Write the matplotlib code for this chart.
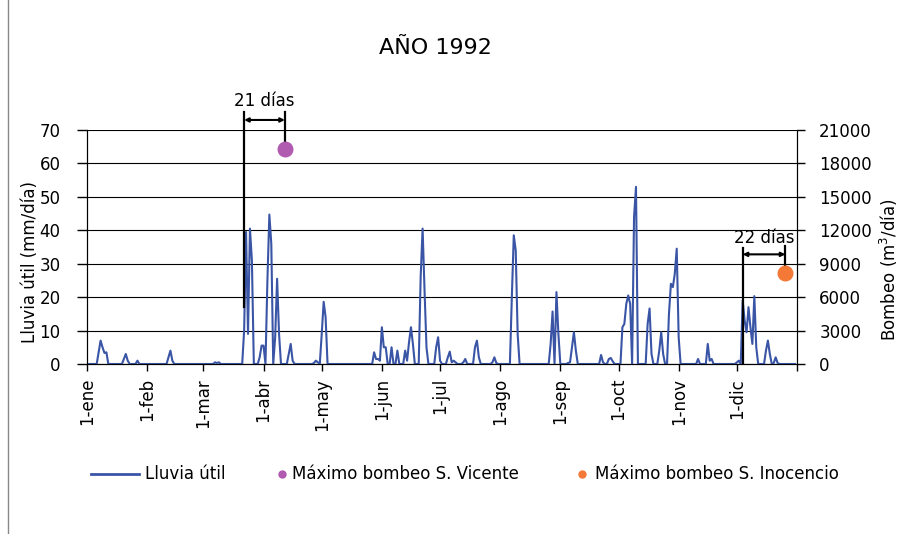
import numpy as np
import matplotlib.pyplot as plt
from matplotlib.lines import Line2D

# lluvia útil diaria (mm/día), sólo días con lluvia; el resto es 0
rain_day = [6, 7, 8, 9, 10, 19, 20, 21, 26, 42, 43, 44, 66, 67, 68,
            81, 82, 83, 84, 85, 89, 90, 91, 93, 94, 95, 97, 98, 99,
            104, 105, 106, 117, 118, 119, 121, 122, 123,
            148, 149, 150, 151, 152, 153, 154, 157, 160, 164, 165, 166, 167, 168,
            172, 173, 174, 175, 180, 181, 182, 186, 187, 188, 189, 190, 194, 195,
            200, 201, 202, 209, 210, 211, 219, 220, 221, 222,
            239, 240, 242, 243, 248, 249, 250, 251, 252, 265, 266, 269, 270, 271,
            276, 277, 278, 279, 280, 282, 283, 289, 290, 291, 295, 296, 297,
            300, 301, 302, 303, 304, 305, 315, 320, 321, 322,
            335, 336, 338, 339, 340, 341, 342, 343, 344, 345,
            350, 351, 352, 354, 355, 356]
rain_mm = [3.5, 7, 5, 3.3, 3.5, 1.5, 3, 1, 1, 2, 4, 1, 0.5, 0.3, 0.5,
           10, 39.5, 9, 40.5, 31, 2, 5.5, 5.5, 25, 44.7, 36, 8, 25.5, 9,
           3, 6, 1, 0.3, 1, 0.5, 9, 18.6, 14,
           3.5, 1.5, 1.5, 1, 11, 5, 5, 5, 4, 4, 1, 6.5, 11, 6,
           26, 40.5, 22, 5, 5, 8, 1, 2, 3.7, 0.5, 1, 0.5, 0.5, 1.5,
           5, 7, 2, 0.5, 2, 0.3, 20, 38.5, 34, 9,
           6, 15.7, 21.5, 9, 0.3, 0.5, 5, 9.5, 4, 2.7, 0.5, 1.5, 1.8, 0.8,
           11, 12, 18, 20.5, 18, 44, 53, 12, 16.6, 3, 4, 9.5, 3,
           15, 24, 23, 27, 34.5, 8, 1.5, 6, 1, 1.5,
           0.5, 1, 19, 13, 9.5, 17, 11, 6, 20.3, 5,
           4, 7, 3, 0.3, 2, 0.3]

# máximos de bombeo (m3/día) y día de la lluvia asociada
sv_rain_day, sv_pump_day, sv_pump = 81, 102, 19300
si_rain_day, si_pump_day, si_pump = 338, 360, 8150

month_start = [0, 31, 60, 91, 121, 152, 182, 213, 244, 274, 305, 335, 366]
month_lbl = ['1-ene', '1-feb', '1-mar', '1-abr', '1-may', '1-jun', '1-jul',
             '1-ago', '1-sep', '1-oct', '1-nov', '1-dic', '']

days = np.arange(366)
rain = np.zeros(366)
rain[rain_day] = rain_mm

blue = '#3A55A6'
purple = '#B05AB0'
orange = '#F47836'

plt.rcParams['font.family'] = ['DejaVu Sans']
fig = plt.figure(figsize=(8.99, 5.34), dpi=100)
ax = fig.add_axes([87/899, 1-364/534, (797-87)/899, (364-130)/534])
ax2 = ax.twinx()

ax.plot(days, rain, color=blue, lw=1.5, zorder=3)
ax.set_xlim(0, 366)
ax.set_ylim(0, 70)
ax.set_yticks(range(0, 71, 10))
ax.yaxis.grid(True, color='black', lw=0.8)
ax.set_axisbelow(True)
ax.set_xticks(month_start)
ax.set_xticklabels(month_lbl, rotation=90, fontsize=12)
ax.tick_params(axis='x', direction='out', length=5, width=1, pad=5)
ax.tick_params(axis='y', direction='out', length=7, width=1, labelsize=12, pad=12)
ax.spines['top'].set_visible(False)
ax2.spines['top'].set_visible(False)

ax2.set_ylim(0, 21000)
ax2.set_yticks(range(0, 21001, 3000))
ax2.tick_params(axis='y', direction='out', length=6, width=1, labelsize=12, pad=10)
ax2.scatter([sv_pump_day], [sv_pump], s=110, color=purple, zorder=5, clip_on=False)
ax2.scatter([si_pump_day], [si_pump], s=110, color=orange, zorder=5, clip_on=False)

# anotaciones de desfase
k = 70 / 21000
arr = dict(arrowstyle='<|-|>', mutation_scale=6, lw=1.5, color='black', shrinkA=0, shrinkB=0)
ax.plot([sv_rain_day, sv_rain_day], [17, 75.4], color='black', lw=1.6, clip_on=False, zorder=4)
ax.plot([sv_pump_day, sv_pump_day], [75.4, sv_pump*k], color='black', lw=1.6, clip_on=False, zorder=4)
ax.annotate('', xy=(sv_pump_day, 73), xytext=(sv_rain_day, 73), arrowprops=arr, annotation_clip=False)
ax.text((sv_rain_day+sv_pump_day)/2, 78.7, '%d días' % (sv_pump_day-sv_rain_day),
        ha='center', va='center', fontsize=12, clip_on=False)

ax.plot([si_rain_day, si_rain_day], [0.3, 34.7], color='black', lw=1.6, clip_on=False, zorder=4)
ax.plot([si_pump_day, si_pump_day], [35.3, si_pump*k], color='black', lw=1.6, clip_on=False, zorder=4)
ax.annotate('', xy=(si_pump_day, 32.8), xytext=(si_rain_day, 32.8), arrowprops=arr, annotation_clip=False)
ax.text((si_rain_day+si_pump_day)/2, 37.7, '%d días' % (si_pump_day-si_rain_day),
        ha='center', va='center', fontsize=12, clip_on=False)

fig.text(435/899, 1-48/534, 'AÑO 1992', ha='center', va='center', fontsize=16)
fig.text(30/899, 1-262/534, 'Lluvia útil (mm/día)', rotation=90, ha='center', va='center', fontsize=12)
fig.text(889/899, 1-270/534, 'Bombeo (m$^3$/día)', rotation=90, ha='center', va='center', fontsize=12)

# leyenda
ly = 1 - 474/534
fig.add_artist(Line2D([91/899, 139/899], [ly, ly], color=blue, lw=2))
fig.text(145/899, ly, 'Lluvia útil', va='center', fontsize=12)
fig.add_artist(Line2D([282/899], [ly], marker='o', ms=5, color=purple, lw=0))
fig.text(292/899, ly, 'Máximo bombeo S. Vicente', va='center', fontsize=12)
fig.add_artist(Line2D([582/899], [ly], marker='o', ms=5, color=orange, lw=0))
fig.text(595/899, ly, 'Máximo bombeo S. Inocencio', va='center', fontsize=12)

fig.add_artist(Line2D([8/899, 8/899], [0, 1], color='#888888', lw=1))

fig.savefig('out.png', dpi=100)
